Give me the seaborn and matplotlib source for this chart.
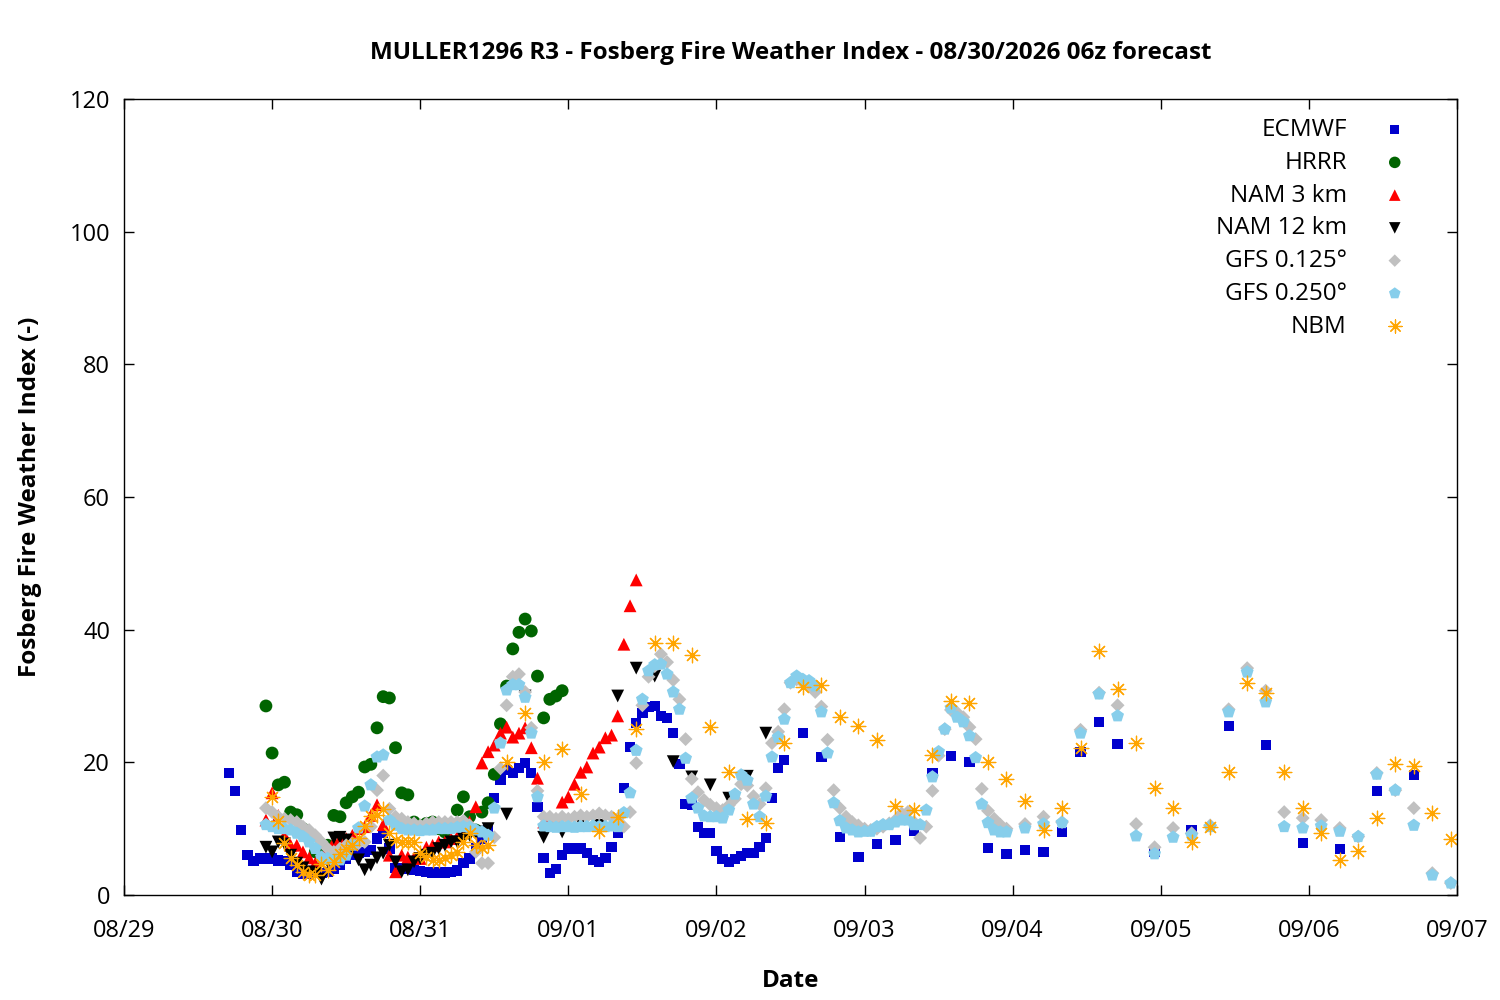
import pandas as pd
import matplotlib
matplotlib.use("Agg")
import matplotlib.pyplot as plt
import seaborn as sns

# Forecast hours counted from 08/29 00z, values of the Fosberg index
ecmwf_hours = list(range(17, 108)) + [110, 113, 116, 119, 122, 125, 128, 131, 134, 137, 140,
                                      143, 146, 149, 152, 155, 158, 161] + [167, 173, 179, 185, 191, 197, 203, 209]
ecmwf_vals = [18.4, 15.7, 9.8, 6.0, 5.1, 5.5, 5.5, 5.5, 5.2, 5.1,
              4.5, 3.5, 3.2, 3.2, 3.3, 3.3, 3.5, 4.0, 4.5, 5.5,
              6.0, 6.3, 6.5, 6.8, 8.5, 9.3, 7.0, 4.1, 4.0, 4.0,
              3.8, 3.6, 3.5, 3.4, 3.4, 3.4, 3.5, 3.7, 4.8, 5.5,
              7.0, 8.5, 10.0, 14.6, 17.3, 18.8, 18.4, 19.1, 19.9, 18.4,
              13.3, 5.6, 3.3, 3.9, 6.0, 7.0, 7.0, 7.0, 6.3, 5.3,
              5.0, 5.6, 7.2, 9.3, 16.1, 22.3, 25.9, 27.4, 28.3, 28.5,
              27.0, 26.7, 24.4, 19.7, 13.7, 13.6, 10.3, 9.3, 9.3, 6.6,
              5.4, 5.0, 5.4, 5.9, 6.3, 6.3, 7.2, 8.6, 14.6, 19.1,
              20.3,
              24.4, 20.8, 8.7, 5.7, 7.7, 8.3, 9.7, 18.4, 21.0, 20.0, 7.1,
              6.2, 6.8, 6.5, 9.5, 21.6, 26.1, 22.8,
              6.5, 9.8, 25.5, 22.6, 7.8, 6.9, 15.7, 18.1]

hrrr_hours = list(range(23, 72))
hrrr_vals = [28.5, 21.4, 16.6, 17.0, 12.5, 12.1, 10.0, 9.0, 6.5, 7.2,
             7.5, 12.0, 11.8, 13.9, 14.8, 15.5, 19.3, 19.7, 25.2, 29.9,
             29.7, 22.2, 15.4, 15.1, 11.0, 10.5, 10.8, 11.0, 10.0, 9.5,
             10.5, 12.8, 14.8, 11.8, 9.8, 12.5, 13.9, 18.2, 25.8, 31.5,
             37.1, 39.6, 41.6, 39.8, 33.0, 26.7, 29.5, 30.0, 30.8]

nam3_hours = list(range(23, 84))
nam3_vals = [11.3, 15.4, 12.0, 9.0, 7.5, 7.5, 6.5, 5.6, 4.8, 5.5,
             7.0, 8.0, 8.5, 8.5, 9.0, 10.0, 10.3, 12.0, 13.6, 10.6,
             6.0, 3.5, 6.0, 5.7, 5.6, 5.5, 7.2, 7.5, 8.0, 8.0,
             8.5, 8.8, 9.5, 11.0, 13.3, 19.9, 21.6, 22.6, 24.4, 25.3,
             23.8, 24.4, 25.2, 22.2, 17.6, 11.0, 11.3, 11.2, 14.0, 14.8,
             16.7, 18.5, 19.3, 21.4, 22.3, 23.7, 24.1, 27.0, 37.8, 43.6,
             47.5]

nam12_hours = list(range(23, 60)) + [62, 65, 68, 71, 74, 77, 80, 83, 86, 89, 92, 95, 98, 101, 104]
nam12_vals = [7.2, 6.5, 8.0, 7.7, 6.0, 4.8, 4.1, 3.5, 3.3, 2.4,
              5.0, 8.6, 8.7, 8.3, 7.0, 5.3, 3.8, 4.5, 5.6, 6.3,
              7.5, 5.0, 3.5, 3.8, 5.0, 5.5, 6.0, 6.3, 7.0, 7.5,
              8.0, 8.0, 8.5, 9.0, 9.3, 9.5, 10.0,
              12.2, 30.0, 8.7, 9.5, 11.0, 10.5, 30.0, 34.2, 33.0, 20.1, 17.8, 16.6, 14.6, 17.9, 24.4]

gfs3h_hours = [146, 149, 152, 155, 158, 161, 164, 167, 170, 173, 176, 179,
               182, 185, 188, 191, 194, 197, 200, 203, 206, 209, 212, 215]

gfs125_hours = list(range(23, 144)) + gfs3h_hours
gfs125_vals = [13.1, 12.5, 11.8, 11.5, 11.3, 11.0, 10.3, 9.8, 9.0, 8.0,
               7.0, 6.5, 7.0, 7.5, 7.8, 7.8, 8.0, 10.3, 15.8, 18.0,
               13.0, 11.8, 11.5, 11.0, 10.8, 10.5, 10.8, 11.0, 11.0, 11.0,
               11.0, 11.0, 11.2, 10.5, 6.5, 4.8, 4.8, 8.7, 19.1, 28.6,
               32.9, 33.3, 30.6, 25.2, 15.7, 11.8, 11.8, 11.5, 11.8, 11.5,
               11.8, 12.0, 11.8, 12.0, 12.3, 12.0, 11.8, 11.5, 10.3, 12.5,
               19.9, 28.6, 32.9, 34.5, 36.3, 35.1, 32.4, 29.5, 23.5, 17.5,
               15.5, 14.3, 13.6, 13.1, 12.8, 13.5, 14.5, 16.7, 16.5, 14.9,
               13.7, 16.1, 22.9, 24.6, 28.0, 32.0, 32.5, 32.0, 31.5, 30.6,
               28.4, 23.4, 15.8, 13.1, 11.8, 11.0, 10.5, 10.0, 9.8, 10.0,
               10.3, 10.8, 11.3, 12.3, 12.5, 11.0, 8.6, 10.3, 15.7, 21.0,
               25.0, 27.9, 27.5, 26.8, 25.3, 23.5, 16.0, 12.7, 11.5, 10.6,
               10.0,
               10.7, 11.8, 11.0, 24.9, 30.5, 28.6, 10.7, 7.2, 10.1, 9.3, 10.5, 28.0,
               34.2, 30.8, 12.5, 11.6, 11.3, 10.1, 8.8, 18.4, 15.8, 13.1, 3.3, 1.8]

gfs250_hours = list(range(23, 144)) + gfs3h_hours
gfs250_vals = [10.6, 10.3, 10.0, 10.0, 9.8, 9.3, 8.8, 8.0, 7.0, 5.7,
               5.5, 5.3, 5.3, 6.0, 7.5, 10.1, 13.4, 16.6, 20.8, 21.1,
               11.3, 10.5, 10.0, 9.8, 9.8, 9.7, 9.8, 9.8, 10.0, 10.0,
               10.0, 10.2, 10.3, 10.2, 9.8, 9.5, 9.0, 13.1, 22.9, 30.9,
               31.7, 31.7, 29.8, 24.4, 14.8, 10.4, 10.3, 10.2, 10.3, 10.3,
               10.2, 10.3, 10.3, 10.4, 10.3, 10.3, 10.4, 10.3, 12.4, 15.4,
               21.8, 29.5, 33.8, 34.7, 34.8, 33.3, 30.6, 28.0, 20.6, 14.6,
               13.1, 11.9, 11.8, 11.8, 11.6, 12.8, 15.2, 18.1, 17.3, 13.7,
               11.8, 14.9, 20.8, 23.8, 26.5, 32.0, 33.0, 32.5, 32.3, 31.5,
               27.6, 21.4, 13.9, 11.2, 10.1, 9.8, 9.5, 9.6, 9.6, 10.3,
               10.6, 10.6, 11.0, 11.3, 11.3, 10.6, 10.6, 12.8, 17.8, 21.6,
               25.0, 28.2, 26.8, 26.1, 24.0, 20.7, 13.7, 10.9, 9.8, 9.5,
               9.5,
               10.1, 10.7, 10.9, 24.4, 30.3, 27.0, 8.9, 6.2, 8.7, 9.0, 10.3, 27.6,
               33.6, 29.1, 10.3, 10.1, 10.4, 9.6, 8.8, 18.2, 15.8, 10.5, 3.0, 1.8]

nbm_hours = list(range(24, 60)) + list(range(62, 216, 3))
nbm_vals = [14.8, 11.2, 7.8, 5.6, 4.5, 3.5, 3.0, 3.0, 4.7, 3.8,
            5.0, 6.2, 6.9, 7.5, 8.6, 10.4, 11.9, 12.1, 13.0, 9.3,
            8.3, 8.0, 8.0, 8.0, 6.3, 5.7, 5.3, 5.3, 5.6, 6.0,
            6.5, 8.0, 9.3, 7.5, 7.1, 7.5,
            20.1, 27.5, 20.1, 22.0, 15.2, 9.7, 11.8, 25.0, 38.0, 38.0,
            36.2, 25.3, 18.5, 11.5, 10.9, 22.9, 31.3, 31.7, 26.8, 25.5,
            23.4, 13.4, 12.8, 21.1, 29.2, 28.9, 20.0, 17.5, 14.2, 9.8,
            13.1, 22.2, 36.8, 31.0, 22.9, 16.1, 13.1, 8.0, 10.3, 18.5,
            32.0, 30.5, 18.5, 13.1, 9.4, 5.3, 6.6, 11.6, 19.7, 19.5,
            12.4, 8.4]

x_tick_labels = ["08/29", "08/30", "08/31", "09/01", "09/02", "09/03", "09/04", "09/05", "09/06", "09/07"]
y_ticks = [0, 20, 40, 60, 80, 100, 120]

base = pd.Timestamp("2026-08-29")

# model name, hours, values, marker, colour, size
models = [
    ("ECMWF", ecmwf_hours, ecmwf_vals, "s", "#0000cd", 55),
    ("HRRR", hrrr_hours, hrrr_vals, "o", "#006400", 85),
    ("NAM 3 km", nam3_hours, nam3_vals, "^", "#ff0000", 85),
    ("NAM 12 km", nam12_hours, nam12_vals, "v", "#000000", 85),
    ("GFS 0.125°", gfs125_hours, gfs125_vals, "D", "#c0c0c0", 50),
    ("GFS 0.250°", gfs250_hours, gfs250_vals, "p", "#87ceeb", 95),
    ("NBM", nbm_hours, nbm_vals, (8, 2, 0), "#ffa500", 110),
]

sns.set_theme(style="ticks")
plt.rcParams["font.family"] = ["Open Sans", "DejaVu Sans"]
plt.rcParams["text.color"] = "black"
plt.rcParams["axes.labelcolor"] = "black"

fig = plt.figure(figsize=(15, 10), dpi=100)
ax = fig.add_axes([124 / 1500, 105 / 1000, 1333 / 1500, 796 / 1000])

for name, hours, vals, marker, color, size in models:
    df = pd.DataFrame({"time": base + pd.to_timedelta(hours, unit="h"), "fwi": vals})
    if name == "NBM":
        sns.scatterplot(data=df, x="time", y="fwi", marker=marker, color=color, s=size,
                        linewidth=0.9, label=name, ax=ax)
    else:
        sns.scatterplot(data=df, x="time", y="fwi", marker=marker, color=color, s=size,
                        edgecolor="none", linewidth=0, label=name, ax=ax)

day_ticks = pd.date_range(base, periods=len(x_tick_labels), freq="D")
ax.set_xlim(day_ticks[0], day_ticks[-1])
ax.set_xticks(day_ticks)
ax.set_xticklabels(x_tick_labels)
ax.set_ylim(0, 120)
ax.set_yticks(y_ticks)

for sp in ax.spines.values():
    sp.set_visible(True)
    sp.set_color("black")
    sp.set_linewidth(1)

ax.tick_params(direction="in", length=7, width=1, top=True, right=True, labelsize=17, colors="black")
ax.tick_params(axis="x", pad=17)
ax.tick_params(axis="y", pad=10)

ax.set_title("MULLER1296 R3 - Fosberg Fire Weather Index - 08/30/2026 06z forecast",
             fontsize=17.5, fontweight="bold", pad=29, color="black")
ax.set_xlabel("Date", fontsize=17.5, fontweight="bold", labelpad=19)
ax.set_ylabel("Fosberg Fire Weather Index (-)", fontsize=17.5, fontweight="bold", labelpad=20)

ax.legend(loc="upper right", bbox_to_anchor=(0.9843, 1.0036), frameon=False, markerfirst=False,
          fontsize=17.5, labelspacing=0.36, handletextpad=1.18, handlelength=1.6, markerscale=0.9)

fig.savefig("out.png", dpi=100)
